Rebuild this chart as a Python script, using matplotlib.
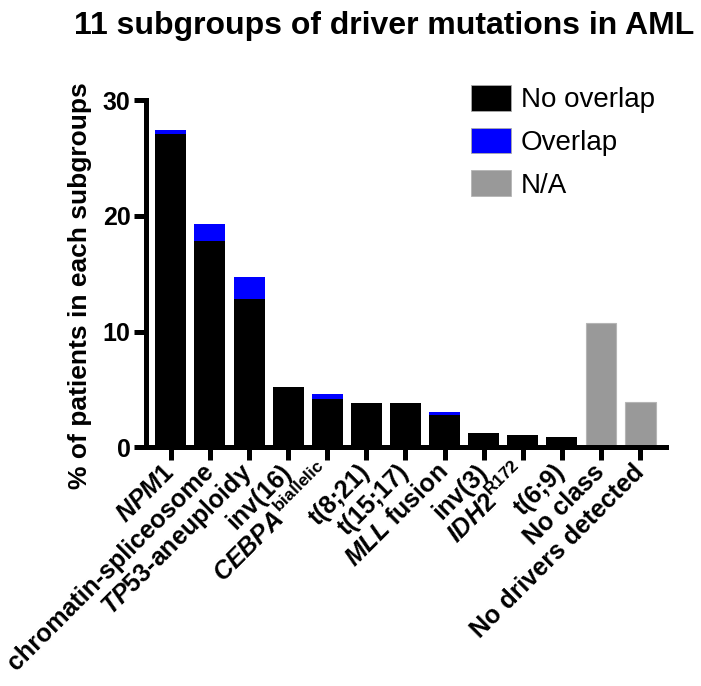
import matplotlib
matplotlib.use("Agg")
import matplotlib.pyplot as plt
from matplotlib.patches import Patch
import numpy as np

# data (% of patients)
categories = [r"$\mathit{NPM1}$", "chromatin-spliceosome", r"$\mathit{TP53}$-aneuploidy",
              "inv(16)", r"$\mathit{CEBPA}^{\mathrm{biallelic}}$", "t(8;21)", "t(15;17)",
              r"$\mathit{MLL}$ fusion", "inv(3)", r"$\mathit{IDH2}^{\mathrm{R172}}$", "t(6;9)",
              "No class", "No drivers detected"]
no_overlap = [27.1, 17.8, 12.8, 5.2, 4.2, 3.8, 3.8, 2.8, 1.25, 1.1, 0.9, 0, 0]
overlap = [0.3, 1.5, 1.9, 0, 0.4, 0, 0, 0.25, 0, 0, 0, 0, 0]
not_avail = [0, 0, 0, 0, 0, 0, 0, 0, 0, 0, 0, 10.7, 3.95]
yticks = [0, 10, 20, 30]

plt.rcParams['font.family'] = ['Liberation Sans', 'DejaVu Sans']
plt.rcParams['mathtext.fontset'] = 'custom'
plt.rcParams['mathtext.it'] = 'Liberation Sans:italic:bold'
plt.rcParams['mathtext.rm'] = 'Liberation Sans:bold'
plt.rcParams['mathtext.bf'] = 'Liberation Sans:bold'

fig = plt.figure(figsize=(7.01, 6.86), dpi=100)
ax = fig.add_axes([0.208, 0.348, 0.742, 0.506])

x = np.arange(len(categories))
w = 0.79
ax.bar(x, no_overlap, w, color='black', edgecolor='none', zorder=2)
ax.bar(x, overlap, w, bottom=no_overlap, color='#0000ff', edgecolor='none', zorder=2)
ax.bar(x, not_avail, w, color='#999999', edgecolor='#b5b5b5', linewidth=0.8, zorder=2)

ax.set_xlim(-0.64, 12.66)
ax.set_ylim(0, 30)
for s in ['top', 'right']:
    ax.spines[s].set_visible(False)
for s in ['left', 'bottom']:
    ax.spines[s].set_linewidth(3.6)
    ax.spines[s].set_zorder(3)
    ax.spines[s].set_capstyle('projecting')

ax.set_yticks(yticks)
ax.set_yticklabels([str(v) for v in yticks], fontsize=18, fontweight='bold')
ax.tick_params(axis='y', length=9, width=3.6, pad=2)
ax.tick_params(axis='x', length=9, width=3.6, pad=6)
ax.set_xticks(x)
ax.set_xticklabels(categories, rotation=45, ha='right', va='center',
                   rotation_mode='anchor', fontsize=18, fontweight='bold')

ax.set_ylabel("% of patients in each subgroups", fontsize=19, fontweight='bold')
ax.yaxis.set_label_coords(-0.104, 0.467)

fig.text(0.548, 0.951, "11 subgroups of driver mutations in AML", ha='center', va='baseline',
         fontsize=23, fontweight='bold')

handles = [Patch(facecolor='black', edgecolor='#aaaaaa', linewidth=0.6, label='No overlap'),
           Patch(facecolor='#0000ff', edgecolor='#aaaaaa', linewidth=0.6, label='Overlap'),
           Patch(facecolor='#999999', edgecolor='#b5b5b5', linewidth=0.6, label='N/A')]
fig.legend(handles=handles, loc='upper left', bbox_to_anchor=(471 / 701, 1 - 85 / 686),
           frameon=False, fontsize=20, handlelength=1.44, handleheight=1.04,
           handletextpad=0.36, labelspacing=0.52, borderpad=0, borderaxespad=0)

fig.savefig("out.png", dpi=100)
